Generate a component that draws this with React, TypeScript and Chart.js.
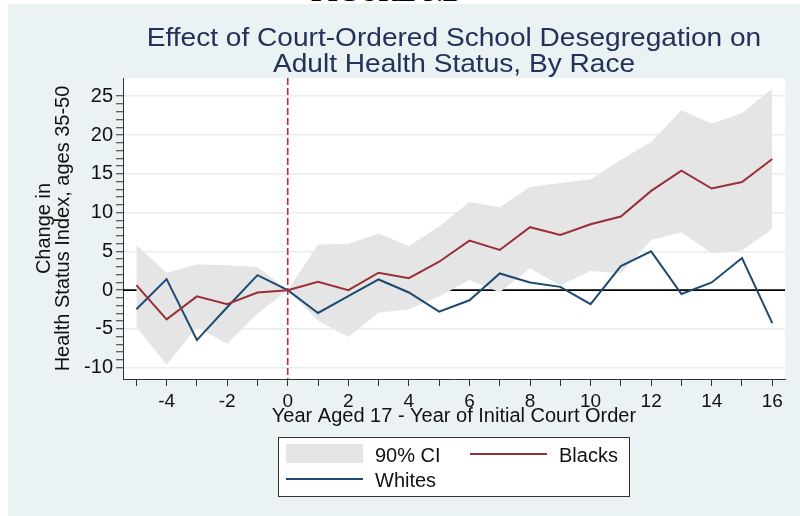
import React, { useEffect, useRef } from 'react';
import { Chart, registerables } from 'chart.js';

Chart.register(...registerables);

const years = [-5, -4, -3, -2, -1, 0, 1, 2, 3, 4, 5, 6, 7, 8, 9, 10, 11, 12, 13, 14, 15, 16];
const blacks = [0.65, -3.76, -0.8, -1.8, -0.3, 0, 1.08, 0, 2.25, 1.55, 3.67, 6.39, 5.18, 8.12, 7.12, 8.5, 9.5, 12.8, 15.4, 13.1, 13.95, 16.9];
const whites = [-2.46, 1.42, -6.43, -2.2, 1.94, 0, -2.94, -0.78, 1.38, -0.3, -2.76, -1.3, 2.16, 1.0, 0.43, -1.8, 3.1, 5.0, -0.5, 1.0, 4.15, -4.24];
const ciUpper = [5.83, 2.25, 3.3, 3.2, 3.0, 0, 5.9, 5.95, 7.3, 5.7, 8.2, 11.35, 10.7, 13.3, 13.8, 14.3, 16.8, 19.1, 23.2, 21.5, 22.8, 26.0];
const ciLower = [-4.75, -9.6, -4.75, -6.9, -3.0, 0, -3.9, -6.05, -2.9, -2.46, -0.8, 1.3, -0.26, 2.8, 0.65, 2.46, 2.16, 6.48, 7.47, 4.75, 5.1, 7.9];

const xTicks = [-5, -4, -3, -2, -1, 0, 1, 2, 3, 4, 5, 6, 7, 8, 9, 10, 11, 12, 13, 14, 15, 16];
const yTicks = Array.from({ length: 36 }, (_, i) => i - 10);
const yMajorStep = 5;
const xLabelStep = 2;

const titleLines = ['Effect of Court-Ordered School Desegregation on', 'Adult Health Status, By Race'];
const yTitle = ['Change in', 'Health Status Index, ages 35-50'];
const xTitle = 'Year Aged 17 - Year of Initial Court Order';
const legendLabels = { ci: '90% CI', blacks: 'Blacks', whites: 'Whites' };

const BG = '#eaf2f3';
const GRID = '#e6eef0';
const BLACKS_COLOR = '#993038';
const WHITES_COLOR = '#1d4a72';
const CI_COLOR = '#e5e5e5';
const REF_COLOR = '#cc2244';
const FONT = '"Liberation Sans", Arial, sans-serif';

const pts = (arr: number[]) => arr.map((v, i) => ({ x: years[i], y: v }));

const decorPlugin = {
  id: 'decor',
  beforeDraw(chart: any) {
    const { ctx, chartArea } = chart;
    ctx.save();
    ctx.fillStyle = BG;
    ctx.fillRect(0, 0, chart.width, chart.height);
    ctx.fillStyle = '#ffffff';
    ctx.fillRect(chartArea.left, chartArea.top, chartArea.right - chartArea.left, chartArea.bottom - chartArea.top);
    ctx.restore();
  },
  beforeDatasetsDraw(chart: any) {
    const { ctx, chartArea, scales } = chart;
    const y0 = scales.y.getPixelForValue(0);
    ctx.save();
    ctx.strokeStyle = '#000000';
    ctx.lineWidth = 1.6;
    ctx.beginPath();
    ctx.moveTo(chartArea.left, y0);
    ctx.lineTo(chartArea.right, y0);
    ctx.stroke();
    ctx.restore();
  },
  afterDatasetsDraw(chart: any) {
    const { ctx, chartArea, scales } = chart;
    const x0 = scales.x.getPixelForValue(0);
    ctx.save();
    ctx.strokeStyle = REF_COLOR;
    ctx.lineWidth = 1.6;
    ctx.setLineDash([7, 3]);
    ctx.beginPath();
    ctx.moveTo(x0, chartArea.top);
    ctx.lineTo(x0, chartArea.bottom);
    ctx.stroke();
    ctx.restore();
  },
  afterDraw(chart: any) {
    const { ctx, chartArea } = chart;
    ctx.save();
    // title
    const cx = (chartArea.left + chartArea.right) / 2;
    ctx.fillStyle = '#243158';
    ctx.font = `26px ${FONT}`;
    ctx.textAlign = 'center';
    ctx.textBaseline = 'alphabetic';
    const sx = 1.08;
    titleLines.forEach((t, i) => {
      ctx.save();
      ctx.translate(cx, 42 + i * 26);
      ctx.scale(sx, 1);
      ctx.fillText(t, 0, 0);
      ctx.restore();
    });
    // legend
    const bx = 270, by = 433, bw = 351, bh = 59;
    ctx.fillStyle = '#ffffff';
    ctx.fillRect(bx, by, bw, bh);
    ctx.strokeStyle = '#333333';
    ctx.lineWidth = 1;
    ctx.strokeRect(bx + 0.5, by + 0.5, bw, bh);
    ctx.fillStyle = CI_COLOR;
    ctx.fillRect(278, 440, 77, 19);
    ctx.lineWidth = 2;
    ctx.strokeStyle = BLACKS_COLOR;
    ctx.beginPath();
    ctx.moveTo(462, 450);
    ctx.lineTo(539, 450);
    ctx.stroke();
    ctx.strokeStyle = WHITES_COLOR;
    ctx.beginPath();
    ctx.moveTo(278, 475);
    ctx.lineTo(355, 475);
    ctx.stroke();
    ctx.fillStyle = '#111111';
    ctx.font = `20px ${FONT}`;
    ctx.textAlign = 'left';
    ctx.textBaseline = 'middle';
    ctx.fillText(legendLabels.ci, 367, 452);
    ctx.fillText(legendLabels.blacks, 551, 452);
    ctx.fillText(legendLabels.whites, 367, 477);
    ctx.restore();
  },
};

export default function App() {
  const ref = useRef<HTMLCanvasElement>(null);
  useEffect(() => {
    if (!ref.current) return;
    const chart = new Chart(ref.current, {
      type: 'line',
      data: {
        datasets: [
          { label: 'Blacks', data: pts(blacks), borderColor: BLACKS_COLOR, borderWidth: 2, pointRadius: 0, fill: false, tension: 0 },
          { label: 'Whites', data: pts(whites), borderColor: WHITES_COLOR, borderWidth: 2, pointRadius: 0, fill: false, tension: 0 },
          { label: 'CI upper', data: pts(ciUpper), borderWidth: 0, borderColor: 'rgba(0,0,0,0)', pointRadius: 0, backgroundColor: CI_COLOR, fill: '+1', tension: 0 },
          { label: 'CI lower', data: pts(ciLower), borderWidth: 0, borderColor: 'rgba(0,0,0,0)', pointRadius: 0, backgroundColor: CI_COLOR, fill: false, tension: 0 },
        ],
      },
      options: {
        animation: false,
        responsive: false,
        devicePixelRatio: 1,
        layout: { padding: { top: 74, right: 15, left: 0, bottom: 0 } },
        plugins: { legend: { display: false }, tooltip: { enabled: false }, title: { display: false } },
        scales: {
          x: {
            type: 'linear',
            min: -5.44,
            max: 16.42,
            afterBuildTicks: (s: any) => { s.ticks = xTicks.map((v) => ({ value: v })); },
            afterFit: (s: any) => { s.height = 137; },
            grid: { drawOnChartArea: false, tickLength: 7, tickColor: '#333333', tickWidth: 1 },
            border: { display: true, color: '#333333', width: 1 },
            ticks: {
              autoSkip: false,
              maxRotation: 0,
              padding: 4,
              color: '#111111',
              font: { family: FONT, size: 19 },
              callback: (v: any) => (Number(v) % xLabelStep === 0 ? String(v) : ''),
            },
            title: {
              display: true,
              text: xTitle,
              color: '#111111',
              font: { family: FONT, size: 20, lineHeight: 1 },
              padding: { top: 0, bottom: 90 },
            },
          },
          y: {
            type: 'linear',
            min: -11.45,
            max: 27.35,
            afterBuildTicks: (s: any) => { s.ticks = yTicks.map((v) => ({ value: v })); },
            afterFit: (s: any) => { s.width = 115; },
            grid: {
              color: (c: any) => (c.tick && c.tick.value % yMajorStep === 0 ? GRID : 'rgba(0,0,0,0)'),
              lineWidth: 1.5,
              tickLength: 7,
              tickColor: '#333333',
              tickWidth: 1,
            },
            border: { display: true, color: '#333333', width: 1 },
            ticks: {
              autoSkip: false,
              padding: 3,
              color: '#111111',
              font: { family: FONT, size: 20 },
              callback: (v: any) => (Number(v) % yMajorStep === 0 ? String(v) : ''),
            },
            title: {
              display: true,
              text: yTitle,
              color: '#111111',
              font: { family: FONT, size: 20, lineHeight: 0.95 },
              padding: { top: 27, bottom: 0 },
            },
          },
        },
      },
      plugins: [decorPlugin],
    });
    return () => chart.destroy();
  }, []);
  return (
    <div style={{ position: 'absolute', left: 0, top: 0, width: 800, height: 516, background: '#ffffff', overflow: 'hidden' }}>
      <div style={{ position: 'absolute', left: 311, top: -21, font: 'bold 27px "Liberation Serif", serif', lineHeight: '27px', whiteSpace: 'nowrap', color: '#000' }}>FIGURE 3.B</div>
      <canvas ref={ref} width={792} height={512} style={{ position: 'absolute', left: 8, top: 4, width: 792, height: 512 }} />
    </div>
  );
}
